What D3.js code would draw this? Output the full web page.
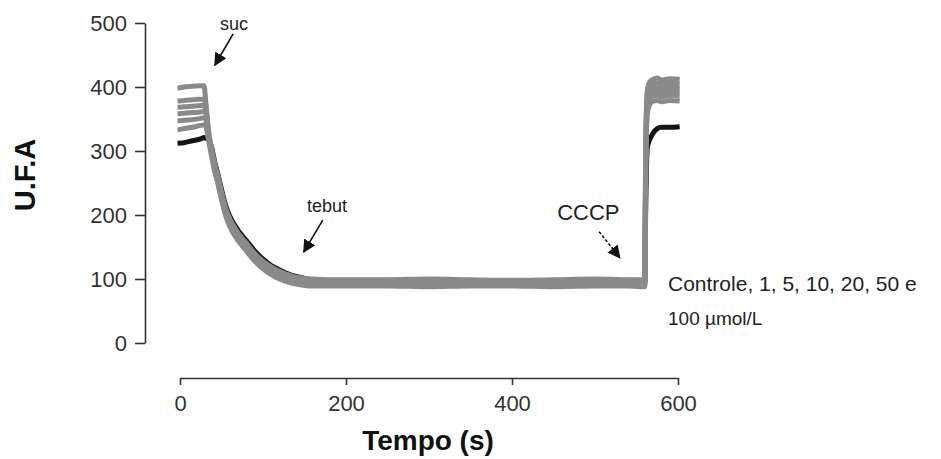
<!DOCTYPE html>
<html>
<head>
<meta charset="utf-8">
<script src="https://cdn.jsdelivr.net/npm/d3@7"></script>
<style>
  body { margin: 0; background: #fff; }
  svg text { font-family: "Liberation Sans", Arial, sans-serif; }
</style>
</head>
<body>
<svg width="941" height="459"></svg>
<script>
// time (s)
var time = [-3, 5, 15, 25, 29, 31, 34, 38, 42, 46, 50, 55, 60, 70, 80, 90, 100, 110, 120, 130, 140, 150, 160, 180, 200,
            250, 300, 350, 400, 450, 500, 540, 555, 560, 561, 563, 566, 570, 575, 580, 590, 602];

// U.F.A per trace
var controle = [312, 313, 316, 319, 321, 320, 318, 306, 282, 262, 240, 215, 198, 176, 160, 144, 131, 121, 114, 108, 104, 101, 98, 95, 94,
                94, 93, 94, 94, 93, 94, 94, 93, 94, 200, 305, 318, 328, 335, 337, 337, 338];
var t1   = [398, 400, 401, 402, 402, 378, 336, 304, 279, 259, 236, 211, 194, 172, 156, 140, 128, 119, 112, 107, 103, 101, 100, 99, 99,
            99, 100, 99, 98, 99, 100, 99, 99, 99, 300, 395, 408, 412, 414, 411, 413, 412];
var t5   = [378, 379, 380, 381, 381, 370, 333, 302, 277, 257, 234, 209, 192, 170, 154, 138, 126, 117, 110, 105, 101, 99, 98, 97, 97,
            97, 96, 97, 97, 96, 97, 97, 97, 97, 290, 388, 401, 405, 406, 404, 406, 405];
var t10  = [368, 369, 370, 371, 371, 365, 330, 300, 275, 255, 232, 207, 190, 168, 152, 136, 124, 115, 108, 103, 99, 97, 96, 95, 95,
            95, 94, 95, 94, 95, 95, 94, 95, 95, 280, 380, 394, 398, 399, 397, 399, 398];
var t20  = [358, 359, 360, 361, 362, 358, 327, 298, 273, 253, 230, 205, 188, 166, 150, 134, 122, 113, 106, 101, 97, 95, 94, 93, 93,
            93, 93, 92, 93, 93, 93, 93, 93, 93, 270, 373, 388, 392, 393, 391, 393, 392];
var t50  = [347, 348, 349, 351, 352, 350, 324, 295, 270, 250, 227, 202, 185, 163, 147, 131, 119, 110, 103, 98, 95, 93, 92, 91, 91,
            91, 90, 91, 91, 90, 91, 91, 90, 90, 260, 366, 381, 386, 387, 385, 387, 386];
var t100 = [333, 335, 337, 340, 341, 339, 320, 292, 267, 247, 224, 199, 182, 160, 144, 128, 116, 107, 100, 95, 92, 90, 89, 89, 89,
            89, 88, 89, 89, 88, 89, 89, 88, 88, 250, 358, 373, 378, 379, 377, 379, 378];

var xTicks = [0, 200, 400, 600];
var yTicks = [0, 100, 200, 300, 400, 500];

var traces = [
  { name: "Controle", values: controle, color: "#151515" },
  { name: "1", values: t1, color: "#8a8a8a" },
  { name: "5", values: t5, color: "#8a8a8a" },
  { name: "10", values: t10, color: "#8a8a8a" },
  { name: "20", values: t20, color: "#8a8a8a" },
  { name: "50", values: t50, color: "#8a8a8a" },
  { name: "100", values: t100, color: "#8a8a8a" }
];

var svg = d3.select("svg");

var x = d3.scaleLinear().domain([0, 600]).range([180, 678]);
var y = d3.scaleLinear().domain([0, 500]).range([343, 23]);

var line = d3.line()
  .x(function(d, i) { return x(time[i]); })
  .y(function(d) { return y(d); })
  .curve(d3.curveMonotoneX);

svg.append("g")
  .selectAll("path")
  .data(traces)
  .enter()
  .append("path")
  .attr("d", function(d) { return line(d.values); })
  .attr("fill", "none")
  .attr("stroke", function(d) { return d.color; })
  .attr("stroke-width", 5)
  .attr("stroke-linejoin", "round");

// axes (offset, prism style)
var yAxis = svg.append("g")
  .attr("transform", "translate(145,0)")
  .call(d3.axisLeft(y).tickValues(yTicks).tickSize(10).tickSizeOuter(0).tickPadding(8));

var xAxis = svg.append("g")
  .attr("transform", "translate(0,378)")
  .call(d3.axisBottom(x).tickValues(xTicks).tickSize(7).tickSizeOuter(0).tickPadding(10));

[yAxis, xAxis].forEach(function(a) {
  a.select(".domain").attr("stroke", "#333").attr("stroke-width", 1.6);
  a.selectAll(".tick line").attr("stroke", "#333").attr("stroke-width", 1.6);
  a.selectAll(".tick text")
    .attr("fill", "#333")
    .style("font-size", "22px")
    .style("font-family", "Liberation Sans, Arial, sans-serif");
});

svg.append("text")
  .attr("transform", "translate(35,175) rotate(-90)")
  .attr("text-anchor", "middle")
  .attr("fill", "#111")
  .style("font-size", "29px")
  .style("font-weight", "bold")
  .text("U.F.A");

svg.append("text")
  .attr("x", 428)
  .attr("y", 450)
  .attr("text-anchor", "middle")
  .attr("fill", "#111")
  .style("font-size", "28px")
  .style("font-weight", "bold")
  .text("Tempo (s)");

// annotations
svg.append("defs").append("marker")
  .attr("id", "head")
  .attr("markerUnits", "userSpaceOnUse")
  .attr("viewBox", "0 0 12 12")
  .attr("refX", 11).attr("refY", 6)
  .attr("markerWidth", 13).attr("markerHeight", 13)
  .attr("orient", "auto")
  .append("path")
  .attr("d", "M0,0 L12,6 L0,12 Z")
  .attr("fill", "#111");

var notes = [
  { label: "suc", tx: 65, ty: 489, x1: 64, y1: 483, x2: 42, y2: 434, size: 18, dash: null },
  { label: "tebut", tx: 177, ty: 205, x1: 172, y1: 192, x2: 149, y2: 142, size: 18, dash: null },
  { label: "CCCP", tx: 492, ty: 192, x1: 505, y1: 174, x2: 530, y2: 133, size: 22, dash: "3,2" }
];

notes.forEach(function(n) {
  svg.append("text")
    .attr("x", x(n.tx)).attr("y", y(n.ty))
    .attr("text-anchor", "middle")
    .attr("fill", "#222")
    .style("font-size", n.size + "px")
    .text(n.label);
  svg.append("line")
    .attr("x1", x(n.x1)).attr("y1", y(n.y1))
    .attr("x2", x(n.x2)).attr("y2", y(n.y2))
    .attr("stroke", "#111")
    .attr("stroke-width", 1.6)
    .attr("stroke-dasharray", n.dash)
    .attr("marker-end", "url(#head)");
});

svg.append("text")
  .attr("x", 668).attr("y", 291)
  .attr("fill", "#222")
  .style("font-size", "21px")
  .text("Controle, 1, 5, 10, 20, 50 e");

svg.append("text")
  .attr("x", 668).attr("y", 325)
  .attr("fill", "#222")
  .style("font-size", "19px")
  .text("100 µmol/L");
</script>
</body>
</html>
